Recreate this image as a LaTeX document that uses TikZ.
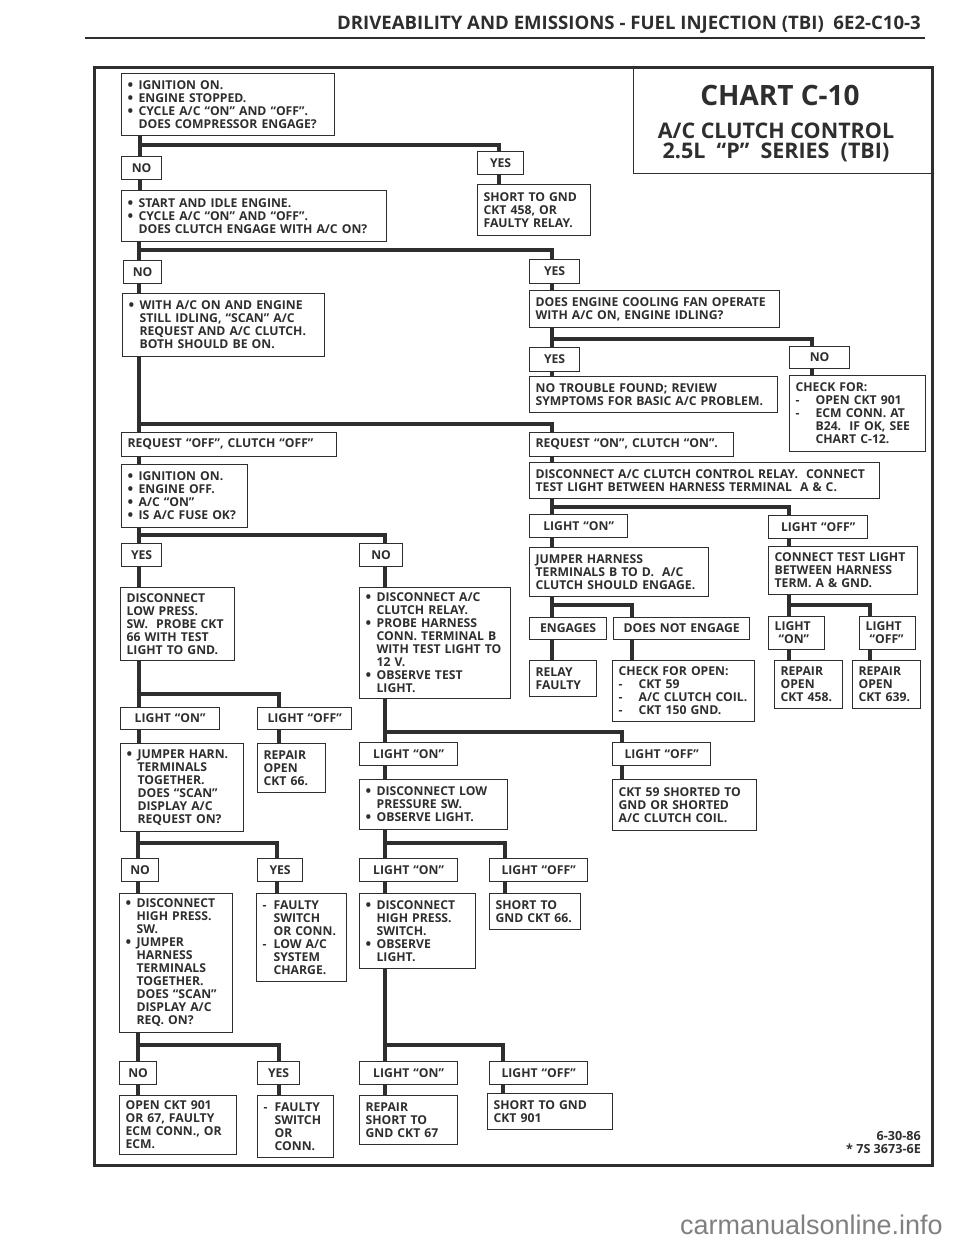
\documentclass[tikz,border=0pt]{standalone}
\usepackage{fontspec}
\setmainfont{Open Sans}
\newfontfamily\webfont{Liberation Sans}
\newcommand{\itm}{\makebox[11pt][l]{\raisebox{-0.6pt}{\fontsize{15}{13}\selectfont\textbullet}}}
\newcommand{\ind}{\hspace*{11pt}}
\newcommand{\dsh}{\makebox[20pt][l]{-}}
\newcommand{\dnd}{\hspace*{20pt}}
\newcommand{\ddsh}{\makebox[11pt][l]{-}}
\definecolor{inkc}{HTML}{2E2E2E}
\tikzset{
  sheet/.style={draw=inkc, line width=3pt},
  box/.style n args={3}{draw=inkc, line width=1.2pt, anchor=north west, align=left,
    inner xsep=6pt, inner ysep=0pt, text width=#1pt-12pt, minimum height=#2pt, text=inkc,
    font=\bfseries\fontsize{12.2}{13}\selectfont, #3},
  tag/.style={align=center},
  link/.style={draw=inkc, line width=3.2pt},
}

\begin{document}
\begin{tikzpicture}[x=1pt, y=-1pt]
    \useasboundingbox (0,0) rectangle (960,1242);
    \node[inkc, font=\bfseries\fontsize{18.6}{20}\selectfont, anchor=east, inner sep=0pt] (header) at (921,25) {DRIVEABILITY AND EMISSIONS - FUEL INJECTION (TBI)\ \ 6E2-C10-3};
    \coordinate (ruleA) at (85,38);
    \coordinate (ruleB) at (925,38);
    \draw[inkc, line width=2pt] (ruleA) -- (ruleB);

    \coordinate (frameA) at (94,67);
    \coordinate (frameB) at (932,1165);
    \draw[sheet] (frameA) rectangle (frameB);

    % title
    \node[draw=inkc, line width=1.2pt, anchor=north west, minimum width=299pt, minimum height=106pt, inner sep=0pt] (titlebox) at (633,67) {};
    \node[inkc, font=\bfseries\fontsize{28}{30}\selectfont] (chart) at (780,95) {CHART C-10};
    \node[inkc, font=\bfseries\fontsize{21.5}{20}\selectfont, align=center] (subject) at (776,142) {A/C CLUTCH CONTROL\\2.5L\ \ ``P''\ \ SERIES\ \ (TBI)};

    % left column, top
    \node[box={213}{62}{}] (ign1) at (121,73) {\itm IGNITION ON.\\\itm ENGINE STOPPED.\\\itm CYCLE A/C ``ON'' AND ``OFF''.\\\ind DOES COMPRESSOR ENGAGE?};
    \node[box={40}{23}{tag}] (no1) at (121,156) {NO};
    \node[box={46}{23}{tag}] (yes1) at (477,151) {YES};
    \node[box={113}{51}{}] (short1) at (477,184) {SHORT TO GND\\CKT 458, OR\\FAULTY RELAY.};
    \node[box={265}{51}{}] (start) at (121,190) {\itm START AND IDLE ENGINE.\\\itm CYCLE A/C ``ON'' AND ``OFF''.\\\ind DOES CLUTCH ENGAGE WITH A/C ON?};
    \node[box={38}{23}{tag}] (no2) at (123,260) {NO};
    \node[box={50}{24}{tag}] (yes2) at (529,259) {YES};
    \node[box={250}{37}{}] (fan) at (529,290) {DOES ENGINE COOLING FAN OPERATE\\WITH A/C ON, ENGINE IDLING?};
    \node[box={202}{63}{}] (still) at (122,293) {\itm WITH A/C ON AND ENGINE\\\ind STILL IDLING, ``SCAN'' A/C\\\ind REQUEST AND A/C CLUTCH.\\\ind BOTH SHOULD BE ON.};
    \node[box={50}{24}{tag}] (yes3) at (529,347) {YES};
    \node[box={60}{22}{tag}] (no3) at (789,346) {NO};
    \node[box={248}{36}{}] (trouble) at (529,376) {NO TROUBLE FOUND; REVIEW\\SYMPTOMS FOR BASIC A/C PROBLEM.};
    \node[box={136}{76}{}] (check) at (789,375) {CHECK FOR:\\\dsh OPEN CKT 901\\\dsh ECM CONN. AT\\\dnd B24.\ \ IF OK, SEE\\\dnd CHART C-12.};
    \node[box={215}{24}{}] (reqoff) at (121,432) {REQUEST ``OFF'', CLUTCH ``OFF''};
    \node[box={204}{24}{}] (reqon) at (529,432) {REQUEST ``ON'', CLUTCH ``ON''.};
    \node[box={350}{36}{}] (relay) at (529,462) {DISCONNECT A/C CLUTCH CONTROL RELAY.\ \ CONNECT\\TEST LIGHT BETWEEN HARNESS TERMINAL\ \ A \& C.};
    \node[box={126}{63}{}] (ign2) at (121,464) {\itm IGNITION ON.\\\itm ENGINE OFF.\\\itm A/C ``ON''\\\itm IS A/C FUSE OK?};

    % middle
    \node[box={40}{23}{tag}] (yes4) at (121,543) {YES};
    \node[box={43}{23}{tag}] (no4) at (359,543) {NO};
    \node[box={98}{23}{tag}] (lon3) at (529,514) {LIGHT ``ON''};
    \node[box={99}{23}{tag}] (loff3) at (768,515) {LIGHT ``OFF''};
    \node[box={179}{49}{}] (jumperb) at (529,547) {JUMPER HARNESS\\TERMINALS B TO D.\ \ A/C\\CLUTCH SHOULD ENGAGE.};
    \node[box={149}{48}{}] (testgnd) at (768,546) {CONNECT TEST LIGHT\\BETWEEN HARNESS\\TERM. A \& GND.};
    \node[box={114}{73}{}] (lowpress) at (120,587) {DISCONNECT\\LOW PRESS.\\SW.\ \ PROBE CKT\\66 WITH TEST\\LIGHT TO GND.};
    \node[box={151}{111}{}] (disrelay) at (359,587) {\itm DISCONNECT A/C\\\ind CLUTCH RELAY.\\\itm PROBE HARNESS\\\ind CONN. TERMINAL B\\\ind WITH TEST LIGHT TO\\\ind 12 V.\\\itm OBSERVE TEST\\\ind LIGHT.};
    \node[box={77}{22}{tag}] (engages) at (529,617) {ENGAGES};
    \node[box={136}{22}{tag}] (noengage) at (613,617) {DOES NOT ENGAGE};
    \node[box={56}{33}{}] (lonb) at (768,616) {LIGHT\\\ ``ON''};
    \node[box={56}{33}{}] (loffb) at (859,616) {LIGHT\\\ ``OFF''};
    \node[box={67}{36}{}] (faulty) at (529,660) {RELAY\\FAULTY};
    \node[box={142}{61}{}] (chkopen) at (612,660) {CHECK FOR OPEN:\\\dsh CKT 59\\\dsh A/C CLUTCH COIL.\\\dsh CKT 150 GND.};
    \node[box={68}{48}{}] (rep458) at (774,660) {REPAIR\\OPEN\\CKT 458.};
    \node[box={68}{48}{}] (rep639) at (852,660) {REPAIR\\OPEN\\CKT 639.};

    % lower rows
    \node[box={99}{22}{tag}] (lon1) at (120,707) {LIGHT ``ON''};
    \node[box={94}{22}{tag}] (loff1) at (257,707) {LIGHT ``OFF''};
    \node[box={98}{23}{tag}] (lon2) at (359,742) {LIGHT ``ON''};
    \node[box={98}{23}{tag}] (loff2) at (612,742) {LIGHT ``OFF''};
    \node[box={123}{88}{}] (jumper) at (120,743) {\itm JUMPER HARN.\\\ind TERMINALS\\\ind TOGETHER.\\\ind DOES ``SCAN''\\\ind DISPLAY A/C\\\ind REQUEST ON?};
    \node[box={68}{49}{}] (rep66) at (257,743) {REPAIR\\OPEN\\CKT 66.};
    \node[box={148}{50}{}] (dislow) at (359,779) {\itm DISCONNECT LOW\\\ind PRESSURE SW.\\\itm OBSERVE LIGHT.};
    \node[box={144}{51}{}] (ckt59) at (612,779) {CKT 59 SHORTED TO\\GND OR SHORTED\\A/C CLUTCH COIL.};
    \node[box={37}{23}{tag}] (no5) at (121,858) {NO};
    \node[box={45}{23}{tag}] (yes5) at (257,858) {YES};
    \node[box={98}{23}{tag}] (lon4) at (359,858) {LIGHT ``ON''};
    \node[box={98}{23}{tag}] (loff4) at (489,858) {LIGHT ``OFF''};
    \node[box={113}{139}{}] (dishigh) at (119,893) {\itm DISCONNECT\\\ind HIGH PRESS.\\\ind SW.\\\itm JUMPER\\\ind HARNESS\\\ind TERMINALS\\\ind TOGETHER.\\\ind DOES ``SCAN''\\\ind DISPLAY A/C\\\ind REQ. ON?};
    \node[box={90}{88}{}] (faulty1) at (256,893) {\ddsh FAULTY\\\ind SWITCH\\\ind OR CONN.\\\ddsh LOW A/C\\\ind SYSTEM\\\ind CHARGE.};
    \node[box={116}{75}{}] (dishigh2) at (359,893) {\itm DISCONNECT\\\ind HIGH PRESS.\\\ind SWITCH.\\\itm OBSERVE\\\ind LIGHT.};
    \node[box={91}{36}{}] (gnd66) at (489,893) {SHORT TO\\GND CKT 66.};
    \node[box={37}{23}{tag}] (no6) at (119,1061) {NO};
    \node[box={42}{23}{tag}] (yes6) at (257,1061) {YES};
    \node[box={98}{23}{tag}] (lon5) at (359,1061) {LIGHT ``ON''};
    \node[box={98}{23}{tag}] (loff5) at (489,1061) {LIGHT ``OFF''};
    \node[box={117}{59}{}] (open901) at (119,1095) {OPEN CKT 901\\OR 67, FAULTY\\ECM CONN., OR\\ECM.};
    \node[box={76}{62}{}] (faulty2) at (257,1095) {\ddsh FAULTY\\\ind SWITCH\\\ind OR\\\ind CONN.};
    \node[box={98}{49}{}] (rep67) at (359,1095) {REPAIR\\SHORT TO\\GND CKT 67};
    \node[box={125}{36}{}] (gnd901) at (487,1093) {SHORT TO GND\\CKT 901};

    \node[inkc, font=\bfseries\fontsize{12.6}{13}\selectfont, align=right, anchor=north east, inner sep=0pt] (stamp) at (921,1131) {6-30-86\\* 7S 3673-6E};
    \node[black!50, font=\webfont\fontsize{27}{29}\selectfont, anchor=east, inner sep=0pt] (website) at (943,1225) {carmanualsonline.info};

    % forks
    \coordinate (f1a) at (140,145);
    \coordinate (f1b) at (499,145);
    \draw[link] (ign1.south -| f1a) -- (no1.north -| f1a)
    (no1.south -| f1a) -- (start.north -| f1a)
    (f1a) -- (f1b) -- (yes1.north -| f1b)
    (yes1.south -| f1b) -- (short1.north -| f1b)
    ;

    \coordinate (f2a) at (139,250);
    \coordinate (f2b) at (552,250);
    \draw[link] (start.south -| f2a) -- (no2.north -| f2a)
    (no2.south -| f2a) -- (still.north -| f2a)
    (f2a) -- (f2b) -- (yes2.north -| f2b)
    (yes2.south -| f2b) -- (fan.north -| f2b)
    ;

    \coordinate (f3a) at (552,339);
    \coordinate (f3b) at (812,339);
    \draw[link] (fan.south -| f3a) -- (yes3.north -| f3a)
    (yes3.south -| f3a) -- (trouble.north -| f3a)
    (f3a) -- (f3b) -- (no3.north -| f3b)
    (no3.south -| f3b) -- (check.north -| f3b)
    ;

    \coordinate (f4a) at (139,424);
    \coordinate (f4b) at (552,424);
    \draw[link] (still.south -| f4a) -- (reqoff.north -| f4a)
    (reqoff.south -| f4a) -- (ign2.north -| f4a)
    (f4a) -- (f4b) -- (reqon.north -| f4b)
    (reqon.south -| f4b) -- (relay.north -| f4b)
    ;

    \coordinate (f5a) at (139,535);
    \coordinate (f5b) at (385,535);
    \draw[link] (ign2.south -| f5a) -- (yes4.north -| f5a)
    (yes4.south -| f5a) -- (lowpress.north -| f5a)
    (f5a) -- (f5b) -- (no4.north -| f5b)
    (no4.south -| f5b) -- (disrelay.north -| f5b)
    ;

    \coordinate (f6a) at (139,694);
    \coordinate (f6b) at (279,694);
    \draw[link] (lowpress.south -| f6a) -- (lon1.north -| f6a)
    (lon1.south -| f6a) -- (jumper.north -| f6a)
    (f6a) -- (f6b) -- (loff1.north -| f6b)
    (loff1.south -| f6b) -- (rep66.north -| f6b)
    ;

    \coordinate (f7a) at (385,732);
    \coordinate (f7b) at (622,732);
    \draw[link] (disrelay.south -| f7a) -- (lon2.north -| f7a)
    (lon2.south -| f7a) -- (dislow.north -| f7a)
    (f7a) -- (f7b) -- (loff2.north -| f7b)
    (loff2.south -| f7b) -- (ckt59.north -| f7b)
    ;

    \coordinate (f8a) at (552,507);
    \coordinate (f8b) at (789,507);
    \draw[link] (relay.south -| f8a) -- (lon3.north -| f8a)
    (lon3.south -| f8a) -- (jumperb.north -| f8a)
    (f8a) -- (f8b) -- (loff3.north -| f8b)
    (loff3.south -| f8b) -- (testgnd.north -| f8b)
    ;

    \coordinate (f9a) at (552,605);
    \coordinate (f9b) at (632,605);
    \draw[link] (jumperb.south -| f9a) -- (engages.north -| f9a)
    (engages.south -| f9a) -- (faulty.north -| f9a)
    (f9a) -- (f9b) -- (noengage.north -| f9b)
    (noengage.south -| f9b) -- (chkopen.north -| f9b)
    ;

    \coordinate (f10a) at (789,605);
    \coordinate (f10b) at (870,605);
    \draw[link] (testgnd.south -| f10a) -- (lonb.north -| f10a)
    (lonb.south -| f10a) -- (rep458.north -| f10a)
    (f10a) -- (f10b) -- (loffb.north -| f10b)
    (loffb.south -| f10b) -- (rep639.north -| f10b)
    ;

    \coordinate (f11a) at (138,843);
    \coordinate (f11b) at (277,843);
    \draw[link] (jumper.south -| f11a) -- (no5.north -| f11a)
    (no5.south -| f11a) -- (dishigh.north -| f11a)
    (f11a) -- (f11b) -- (yes5.north -| f11b)
    (yes5.south -| f11b) -- (faulty1.north -| f11b)
    ;

    \coordinate (f12a) at (385,843);
    \coordinate (f12b) at (505,843);
    \draw[link] (dislow.south -| f12a) -- (lon4.north -| f12a)
    (lon4.south -| f12a) -- (dishigh2.north -| f12a)
    (f12a) -- (f12b) -- (loff4.north -| f12b)
    (loff4.south -| f12b) -- (gnd66.north -| f12b)
    ;

    \coordinate (f13a) at (138,1045);
    \coordinate (f13b) at (279,1045);
    \draw[link] (dishigh.south -| f13a) -- (no6.north -| f13a)
    (no6.south -| f13a) -- (open901.north -| f13a)
    (f13a) -- (f13b) -- (yes6.north -| f13b)
    (yes6.south -| f13b) -- (faulty2.north -| f13b)
    ;

    \coordinate (f14a) at (385,1045);
    \coordinate (f14b) at (503,1045);
    \draw[link] (dishigh2.south -| f14a) -- (lon5.north -| f14a)
    (lon5.south -| f14a) -- (rep67.north -| f14a)
    (f14a) -- (f14b) -- (loff5.north -| f14b)
    (loff5.south -| f14b) -- (gnd901.north -| f14b)
    ;

\end{tikzpicture}
\end{document}
